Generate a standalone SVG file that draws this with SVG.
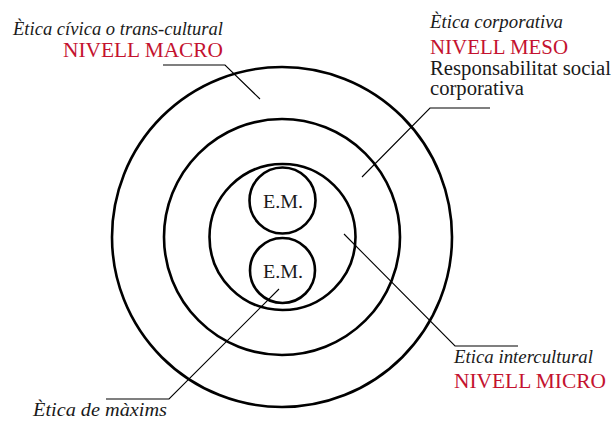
<svg xmlns="http://www.w3.org/2000/svg" width="613" height="421" viewBox="0 0 613 421">
  <style>
    .lbl { font-family: "Liberation Serif", "DejaVu Serif", serif; }
    .it { font-style: italic; font-size: 19px; fill: #1a1a1a; }
    .lvl { font-size: 21px; fill: #c4122f; }
    .body { font-size: 20px; fill: #1a1a1a; }
    .em { font-size: 19px; text-anchor: middle; fill: #1a1a1a; }
    .ring { fill: none; stroke: #000; stroke-width: 2.6; }
    .lead { fill: none; stroke: #000; stroke-width: 1.1; }
  </style>
  <rect width="613" height="421" fill="#fff"/>

  <!-- concentric levels -->
  <g id="macro"><circle class="ring" cx="282" cy="237" r="170"/></g>
  <g id="meso"><circle class="ring" cx="282" cy="237" r="118"/></g>
  <g id="micro"><circle class="ring" cx="282.5" cy="237" r="73"/></g>
  <g id="em-top">
    <circle class="ring" cx="282.5" cy="200.5" r="33"/>
    <text class="lbl em" x="283" y="208" textLength="40" lengthAdjust="spacingAndGlyphs">E.M.</text>
  </g>
  <g id="em-bottom">
    <circle class="ring" cx="282.5" cy="270.5" r="32.5"/>
    <text class="lbl em" x="283" y="278" textLength="40" lengthAdjust="spacingAndGlyphs">E.M.</text>
  </g>

  <!-- leader lines -->
  <g id="connectors">
    <path class="lead" d="M163,65 H225 L260,99"/>
    <path class="lead" d="M490,108 H430 L362,177"/>
    <path class="lead" d="M344,234 L455,346 H518"/>
    <path class="lead" d="M279,289 L169,399 H106"/>
  </g>

  <!-- labels -->
  <g id="label-macro">
    <text class="lbl it" x="13" y="35" textLength="210" lengthAdjust="spacingAndGlyphs">Ètica cívica o trans-cultural</text>
    <text class="lbl lvl" x="63" y="57" textLength="160" lengthAdjust="spacingAndGlyphs">NIVELL MACRO</text>
  </g>
  <g id="label-meso">
    <text class="lbl it" x="430" y="28" textLength="133" lengthAdjust="spacingAndGlyphs">Ètica corporativa</text>
    <text class="lbl lvl" x="430" y="54" textLength="138" lengthAdjust="spacingAndGlyphs">NIVELL MESO</text>
    <text class="lbl body" x="430" y="75" textLength="181" lengthAdjust="spacingAndGlyphs">Responsabilitat social</text>
    <text class="lbl body" x="430" y="95" textLength="94" lengthAdjust="spacingAndGlyphs">corporativa</text>
  </g>
  <g id="label-micro">
    <text class="lbl it" x="454" y="363" textLength="139" lengthAdjust="spacingAndGlyphs">Etica intercultural</text>
    <text class="lbl lvl" x="454" y="388" textLength="152" lengthAdjust="spacingAndGlyphs">NIVELL MICRO</text>
  </g>
  <g id="label-maxims">
    <text class="lbl it" x="33" y="416" textLength="134" lengthAdjust="spacingAndGlyphs">Ètica de màxims</text>
  </g>
</svg>
